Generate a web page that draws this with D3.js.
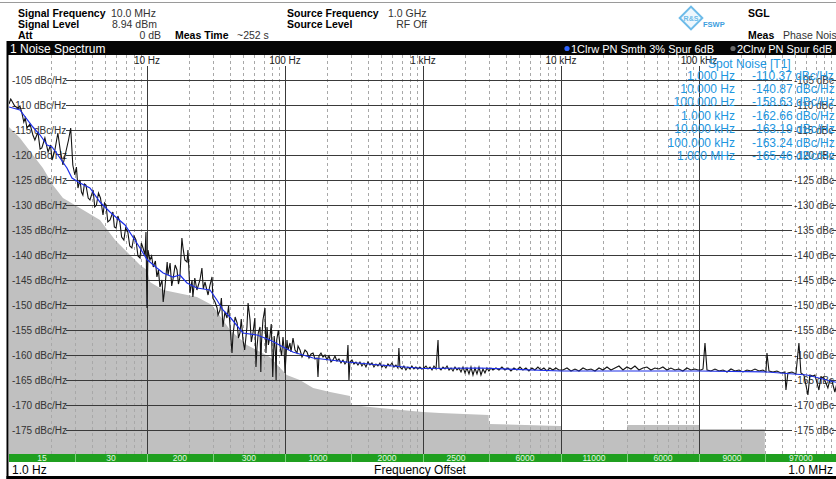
<!DOCTYPE html>
<html>
<head>
<meta charset="utf-8">
<script src="https://cdn.jsdelivr.net/npm/d3@7"></script>
<style>
  html, body { margin: 0; padding: 0; background: #fff; }
  svg { display: block; font-family: "Liberation Sans", Arial, sans-serif; }
</style>
</head>
<body>
<script>
// ---- data ----
const decadeFreqs = [10, 100, 1e3, 1e4, 1e5]
const decadeLabels = ["10 Hz", "100 Hz", "1 kHz", "10 kHz", "100 kHz"]
const levelTicks = [-105, -110, -115, -120, -125, -130, -135, -140, -145, -150, -155, -160, -165, -170, -175]

const segEdges = [1, 3, 10, 30, 100, 300, 1e3, 3e3, 1e4, 3e4, 1e5, 3e5, 1e6]
const segLabels = ["15", "30", "200", "300", "1000", "2000", "2500", "6000", "11000", "6000", "9000", "97000"]

const spotFreqLabels = ["1.000 Hz", "10.000 Hz", "100.000 Hz", "1.000 kHz", "10.000 kHz", "100.000 kHz", "1.000 MHz"]
const spotValues = [-110.37, -140.87, -158.63, -162.66, -163.19, -163.24, -165.46]

// measurement floor (grey area), [Hz, dBc/Hz]
const floorData = [
  [1, -114.4], [1.2, -116.6], [1.49, -120], [1.76, -122.6], [2.08, -126], [2.46, -128.6],
  [3.0, -130], [4.56, -133], [5.87, -137], [7.53, -140], [8.9, -142], [10, -143],
  [10.5, -145.4], [13.1, -147], [23, -148.4], [29.6, -150], [40, -155], [53, -158],
  [77.7, -160.4], [103, -164], [128, -165], [160, -166.6], [212, -167.4], [296, -168.2],
  [300, -170], [488, -170.6], [1000, -171.4], [1330, -171.6], [2990, -172], [3000, -173.8],
  [9840, -174.2], [10000, -174.2], [10100, -175], [30000, -175], [30200, -174],
  [100000, -174], [100500, -174.8], [300000, -174.8]
]

// trace 1: smoothed phase noise (blue)
const trace1 = [
  [1, -110.4], [1.2, -111], [1.49, -114.4], [1.68, -116], [1.89, -118], [2.05, -118.4],
  [2.26, -120], [2.63, -122.6], [2.86, -124.6], [3.27, -125.6], [3.86, -126.6], [4.56, -129.4],
  [5.39, -131.4], [6.93, -134], [8.9, -138.6], [10, -140.9], [11.8, -142.6], [13.1, -143.6],
  [15.4, -144.4], [17.3, -144], [19.5, -145.6], [23, -146.6], [28.6, -147], [32.1, -149],
  [35.5, -151], [39.9, -152.4], [49.6, -155.6], [62.7, -156], [77.9, -157], [100, -158.6],
  [114, -159.4], [160, -160.6], [281, -161.4], [488, -162], [1000, -162.7], [2590, -162.6],
  [10000, -163.2], [100000, -163.2], [311000, -163.4], [606000, -164], [1000000, -165.5]
]

// trace 2: raw phase noise with spurs (black)
const trace2LowBand = [
  [1.0, -109.8], [1.03, -108.8], [1.05, -109.2], [1.1, -110.2], [1.16, -110.6], [1.2, -110.2],
  [1.24, -111.6], [1.28, -113.4], [1.31, -112.6], [1.35, -114.6], [1.42, -113.8], [1.49, -116],
  [1.54, -117], [1.62, -115.4], [1.68, -118.8], [1.73, -118.6], [1.82, -116.6], [1.92, -119.4],
  [2.0, -118], [2.05, -121], [2.15, -119], [2.26, -115.6], [2.35, -119], [2.46, -122],
  [2.6, -119], [2.7, -117], [2.8, -114.6], [2.9, -122], [3.0, -124], [3.08, -122.4],
  [3.16, -126.6], [3.27, -125], [3.35, -127.4], [3.43, -128], [3.52, -125.8], [3.61, -126],
  [3.75, -128.6], [3.86, -129], [4.07, -127], [4.18, -130.4], [4.3, -130], [4.45, -127.6],
  [4.6, -128.6], [4.8, -132], [4.92, -129.6], [5.05, -130], [5.2, -133.4], [5.4, -133],
  [5.66, -131.4], [5.8, -134.4], [5.97, -134.6], [6.15, -132.2], [6.36, -133.4], [6.55, -136.4],
  [6.8, -137], [7.0, -134.6], [7.26, -135.4], [7.5, -138.2], [7.77, -138.6], [8.05, -136.2],
  [8.32, -137], [8.6, -140.2], [8.9, -140.6], [9.1, -137.6], [9.36, -138.6], [9.67, -140],
  [9.83, -135.4], [10, -150.6], [10.17, -139]
]
const trace2MidBand = [
  [10.5, -141], [10.8, -140.2], [11.1, -142.4], [11.5, -141.2], [11.8, -144.4], [12.1, -143],
  [12.4, -146.4], [12.85, -145], [13.1, -149.4], [13.5, -146.4], [14, -141.4], [14.2, -144],
  [14.7, -141.6], [15.1, -146.2], [15.4, -145], [16.0, -142], [16.5, -143], [16.9, -145.8],
  [17.3, -144.6], [17.9, -136.6], [18.2, -138.4], [18.8, -141], [19.5, -141.4], [19.8, -139],
  [20.5, -147.6], [21.2, -145], [21.5, -148.4], [22.2, -144.6], [23, -147], [24.2, -145],
  [25, -142.6], [25.6, -146.8], [26.3, -145.4], [27.7, -148], [28.6, -146], [29.6, -144.4],
  [30, -148.6], [31.1, -149.4], [32.2, -150.6], [32.7, -152], [33.8, -151], [34.6, -148.6],
  [35.5, -154.4], [36.7, -151.4], [38, -152.6], [39, -150.2], [40, -154.4], [41.3, -159.6],
  [42, -156], [43.5, -152.4], [45, -153.6], [46, -156.6], [47.2, -155.6], [48.2, -152.8],
  [49.6, -157], [51, -159], [53, -154.4], [54, -149.6], [55.8, -153], [57, -157.4],
  [58.6, -155.6], [60.5, -152.6], [61.6, -162.4], [62.7, -158.4], [64, -155.6], [65.9, -154.4],
  [66.8, -163.4], [67.5, -157.6], [69.2, -153], [71.6, -150.6], [72.8, -159.6], [74.1, -154.4],
  [75.8, -158], [77.7, -156.4], [79.5, -153.8], [81.5, -164.4], [83.5, -156.2], [85.2, -159.4],
  [86.2, -165], [87.1, -157], [89.5, -155], [92.2, -158.4], [94.5, -160.2], [96.7, -156.4],
  [98.5, -158.8], [100, -163.6]
]
const trace2HighBand = [
  [103.4, -157], [105.1, -159], [108.7, -157.6], [110.5, -159.4], [114.3, -156.6], [118.2, -159],
  [122.2, -159.6], [124.3, -158.2], [128.5, -159], [132.8, -160.4], [135, -160], [139.6, -159],
  [144.4, -159.4], [149.3, -160.6], [154.4, -159.8], [159.6, -159.6], [165, -160.8], [170.6, -160.6],
  [173.4, -164.4], [176.3, -160.2], [182.3, -159.6], [188.5, -160.4], [194.9, -160], [201.5, -161],
  [208.3, -160.2], [215.4, -161.4], [222.7, -161], [230.2, -160.2], [238, -161.2], [246.1, -160.8],
  [254.5, -161.6], [263.1, -161], [272, -161.8], [281.2, -161.2], [285.9, -158], [290.7, -165],
  [295.6, -161.4], [305.6, -161], [316, -161.8], [326.7, -161.4], [337.8, -162], [349.2, -161.4],
  [361, -162.2], [373.3, -161.6], [386, -162.4], [399, -161.4], [412.5, -162], [426.6, -161.6],
  [441, -162.4], [456, -161.8], [471.4, -162.2], [487.4, -161.6], [503.9, -162.4], [521, -162],
  [538.6, -162.6], [556.9, -161.8], [575.8, -162.2], [595.3, -161.6], [615.5, -162.4], [636.3, -162],
  [657.9, -162.6], [668.9, -158.6], [680.2, -162.4], [703.2, -162.8], [727.1, -162.2], [751.7, -163],
  [777.2, -162.4], [803.5, -162.8], [830.8, -162.2], [858.9, -162.8], [888, -162.4], [918.1, -162.8],
  [949.2, -162.4], [981.4, -162.8],
  [1017, -162.6], [1051, -162.2], [1087, -162.8], [1124, -162.4], [1162, -163], [1201, -162.2],
  [1243, -162.8], [1285, -157], [1306, -162.6], [1350, -163], [1396, -162.4], [1444, -162.8],
  [1493, -162.2], [1544, -163], [1596, -162.6], [1650, -163.2], [1706, -162.4], [1763, -163],
  [1823, -162.6], [1885, -163.4], [1949, -162.4], [2015, -163.6], [2083, -162.6], [2154, -163.8],
  [2227, -162.4], [2302, -164], [2380, -162.6], [2461, -163.8], [2545, -162.4], [2631, -164],
  [2720, -162.8], [2812, -163.6], [2907, -162.6], [3006, -163.2], [3108, -162.6], [3213, -163],
  [3378, -162.6], [3552, -163], [3733, -162.4], [3925, -163], [4125, -162.6], [4337, -163.2],
  [4560, -162.6], [4793, -163], [5039, -162.4], [5298, -163], [5569, -162.6], [5855, -163.2],
  [6155, -162.6], [6471, -163], [6802, -162.4], [7151, -163], [7517, -162.6], [7903, -163.2],
  [8308, -162.6], [8734, -163], [9181, -162.6], [9652, -163],
  [10340, -163], [11050, -162.6], [11820, -163.2], [12630, -162.8], [13500, -163.2], [14440, -162.6],
  [15440, -163], [16500, -162.8], [17630, -163.2], [18850, -162.6], [20150, -163], [21540, -162.4],
  [23020, -163], [24610, -162.6], [26310, -162.2], [28120, -163], [30060, -162.4], [32130, -162.8],
  [34340, -162.2], [36710, -163], [39250, -162.6], [41950, -162.4], [44840, -163], [47930, -162.6],
  [51240, -162.8], [54770, -162.4], [58550, -163], [62590, -162.6], [66890, -163], [71510, -162.8],
  [76430, -163.2], [81700, -162.6], [87340, -163], [93360, -162.8], [98140, -163],
  [103400, -163], [106900, -162.8], [110500, -157.6], [114300, -163], [122200, -163.2], [130600, -162.8],
  [139600, -163.2], [149300, -163], [159600, -163.4], [170600, -162.8], [182300, -163.2], [194900, -163],
  [208300, -163.4], [222700, -163], [238000, -163.2], [254500, -162.8], [272000, -163.2], [290700, -163],
  [305600, -163.4], [310800, -159.6], [321300, -163.2], [343400, -163.4], [367100, -163.2], [392500, -163.6],
  [419500, -163.4], [426600, -167], [441000, -163.6], [471400, -163.4], [503900, -163.8], [529800, -157.6],
  [547700, -163.6], [575800, -164], [615500, -168], [636300, -164], [668900, -164.2], [691500, -164],
  [739300, -167], [764300, -164.4], [803500, -164.6], [858900, -166.6], [888000, -165], [918100, -165.2],
  [965200, -167.4], [1000000, -165.6]
]

// ---- layout ----
const width = 836
const height = 479
const plot = { left: 9, right: 837, top: 55, bottom: 455 }

const svg = d3.select('body').append('svg')
    .attr('width', width)
    .attr('height', height)

const x = d3.scaleLog().domain([1, 1e6]).range([plot.left, plot.right])
const y = d3.scaleLinear().domain([-100, -180]).range([plot.top, plot.bottom])

// header
svg.append('line').attr('x1', 0).attr('x2', width).attr('y1', 2.5).attr('y2', 2.5)
    .attr('stroke', '#9a9a9a')
const hdr = svg.append('g').attr('font-size', 10.5).attr('fill', '#000')

const bold = (t, xx, yy) => hdr.append('text').attr('x', xx).attr('y', yy).attr('font-weight', 'bold').text(t)
const reg = (t, xx, yy, anchor) => hdr.append('text').attr('x', xx).attr('y', yy)
    .attr('text-anchor', anchor || 'start').attr('fill', '#333').text(t)

bold('Signal Frequency', 18, 16.5); reg('10.0 MHz', 111, 16.5)
bold('Signal Level', 18, 27.5); reg('8.94 dBm', 112, 27.5)
bold('Att', 18, 38.5); reg('0 dB', 161, 38.5, 'end')
bold('Meas Time', 175, 38.5); reg('~252 s', 237, 38.5)
bold('Source Frequency', 287, 16.5); reg('1.0 GHz', 388, 16.5)
bold('Source Level', 287, 27.5); reg('RF Off', 427, 27.5, 'end')
bold('SGL', 748, 16.5)
bold('Meas', 748, 38.5); reg('Phase Noise', 783, 38.5)

// logo
const logo = svg.append('g').attr('transform', 'translate(691,18)')
logo.append('rect').attr('x', -8).attr('y', -8).attr('width', 16).attr('height', 16)
    .attr('transform', 'rotate(45)')
    .attr('fill', '#eef7fd').attr('stroke', '#6dbbe9').attr('stroke-width', 2)
logo.append('text').attr('x', 0).attr('y', 3).attr('text-anchor', 'middle')
    .attr('font-size', 7).attr('font-weight', 'bold').attr('fill', '#6dbbe9').text('R&S')
logo.append('text').attr('x', 12).attr('y', 9).attr('font-size', 7.5).attr('font-weight', 'bold')
    .attr('fill', '#3d9ede').text('FSWP')

// title bar
svg.append('rect').attr('x', 7).attr('y', 41).attr('width', width - 7).attr('height', 14).attr('fill', '#050505')
svg.append('text').attr('x', 10).attr('y', 52.5).attr('font-size', 12).attr('fill', '#fff').text('1 Noise Spectrum')
svg.append('circle').attr('cx', 567).attr('cy', 48.5).attr('r', 2.6).attr('fill', '#2d62ff')
svg.append('text').attr('x', 571).attr('y', 52.5).attr('font-size', 11).attr('fill', '#fff').text('1Clrw PN Smth 3% Spur 6dB')
svg.append('circle').attr('cx', 733).attr('cy', 48.5).attr('r', 2.6).attr('fill', '#6a6a6a')
svg.append('text').attr('x', 737).attr('y', 52.5).attr('font-size', 11).attr('fill', '#fff').text('2Clrw PN Spur 6dB')

// plot area
svg.append('defs').append('clipPath').attr('id', 'clip')
    .append('rect').attr('x', plot.left).attr('y', plot.top)
    .attr('width', plot.right - plot.left).attr('height', plot.bottom - plot.top)

const g = svg.append('g').attr('clip-path', 'url(#clip)')

// grey floor
const floorArea = d3.area()
    .x(d => x(d[0]))
    .y0(y(-180))
    .y1(d => y(d[1]))
g.append('path')
    .datum(floorData)
    .attr('d', floorArea)
    .attr('fill', '#c0c0c0')

// dashed minor verticals
const minors = []
for (let dec = 1; dec < 1e6; dec *= 10) {
    for (let m = 2; m <= 9; m++) minors.push(dec * m)
}
g.selectAll('line.minor')
    .data(minors)
    .enter()
    .append('line')
    .attr('class', 'minor')
    .attr('x1', d => Math.round(x(d)) + 0.5)
    .attr('x2', d => Math.round(x(d)) + 0.5)
    .attr('y1', plot.top)
    .attr('y2', plot.bottom)
    .attr('stroke', '#a8a8a8')
    .attr('stroke-dasharray', '3,3')

// decade lines and labels
g.selectAll('line.major')
    .data(decadeFreqs)
    .enter()
    .append('line')
    .attr('x1', d => Math.round(x(d)) + 0.5)
    .attr('x2', d => Math.round(x(d)) + 0.5)
    .attr('y1', 66)
    .attr('y2', plot.bottom)
    .attr('stroke', '#3a3a3a')

g.selectAll('text.dec')
    .data(decadeFreqs)
    .enter()
    .append('text')
    .attr('x', d => x(d))
    .attr('y', 64)
    .attr('text-anchor', 'middle')
    .attr('font-size', 10)
    .attr('fill', '#222')
    .text((d, i) => decadeLabels[i])

// horizontal grid with labels
const row = g.selectAll('g.row')
    .data(levelTicks)
    .enter()
    .append('g')
    .attr('transform', d => `translate(0,${Math.round(y(d)) + 0.5})`)
row.append('line')
    .attr('x1', 66).attr('x2', 792)
    .attr('stroke', '#3a3a3a')
row.append('line')
    .attr('x1', 832).attr('x2', 837)
    .attr('stroke', '#3a3a3a')
row.append('text')
    .attr('x', 12).attr('y', 3.5)
    .attr('font-size', 10).attr('fill', '#333')
    .text(d => `${d} dBc/Hz`)
row.append('text')
    .attr('x', 794).attr('y', 3.5)
    .attr('font-size', 10).attr('fill', '#333')
    .text(d => `${d} dBc`)

// traces
const line = d3.line()
    .x(d => x(d[0]))
    .y(d => y(d[1]))

g.append('path')
    .datum(trace2LowBand.concat(trace2MidBand, trace2HighBand))
    .attr('d', line)
    .attr('fill', 'none')
    .attr('stroke', '#141414')
    .attr('stroke-width', 1.1)

g.append('path')
    .datum(trace1)
    .attr('d', line)
    .attr('fill', 'none')
    .attr('stroke', '#1c2ee8')
    .attr('stroke-width', 1.2)

// spot noise table
const spot = svg.append('g').attr('font-size', 12).attr('fill', '#2196df')
spot.append('text').attr('x', 708).attr('y', 67.5).text('Spot Noise [T1]')
spot.selectAll('text.sf')
    .data(spotFreqLabels)
    .enter()
    .append('text')
    .attr('x', 735)
    .attr('y', (d, i) => 79.5 + i * 13.4)
    .attr('text-anchor', 'end')
    .text(d => d)
spot.selectAll('text.sv')
    .data(spotValues)
    .enter()
    .append('text')
    .attr('x', 752)
    .attr('y', (d, i) => 79.5 + i * 13.4)
    .text(d => `${d.toFixed(2)} dBc/Hz`)

// segment bar
const segs = svg.append('g')
segs.append('rect').attr('x', plot.left).attr('y', 454).attr('width', width - plot.left).attr('height', 8)
    .attr('fill', '#1f9f1f')
segs.selectAll('line')
    .data(segEdges.slice(1, -1))
    .enter()
    .append('line')
    .attr('x1', d => Math.round(x(d)) + 0.5)
    .attr('x2', d => Math.round(x(d)) + 0.5)
    .attr('y1', 454).attr('y2', 462)
    .attr('stroke', '#7fd07f')
segs.selectAll('text')
    .data(segLabels)
    .enter()
    .append('text')
    .attr('x', (d, i) => (x(segEdges[i]) + x(segEdges[i + 1])) / 2)
    .attr('y', 461)
    .attr('text-anchor', 'middle')
    .attr('font-size', 8.5)
    .attr('fill', '#e2f8e2')
    .text(d => d)

// bottom labels
const bottom = svg.append('g').attr('font-size', 12).attr('fill', '#000')
bottom.append('text').attr('x', 12).attr('y', 474).text('1.0 Hz')
bottom.append('text').attr('x', 420).attr('y', 474).attr('text-anchor', 'middle').text('Frequency Offset')
bottom.append('text').attr('x', 833).attr('y', 474).attr('text-anchor', 'end').text('1.0 MHz')

// frame
svg.append('rect').attr('x', 6.5).attr('y', 41).attr('width', 2).attr('height', height - 41).attr('fill', '#000')
svg.append('rect').attr('x', 6.5).attr('y', 476).attr('width', width).attr('height', 3).attr('fill', '#000')
</script>
</body>
</html>
